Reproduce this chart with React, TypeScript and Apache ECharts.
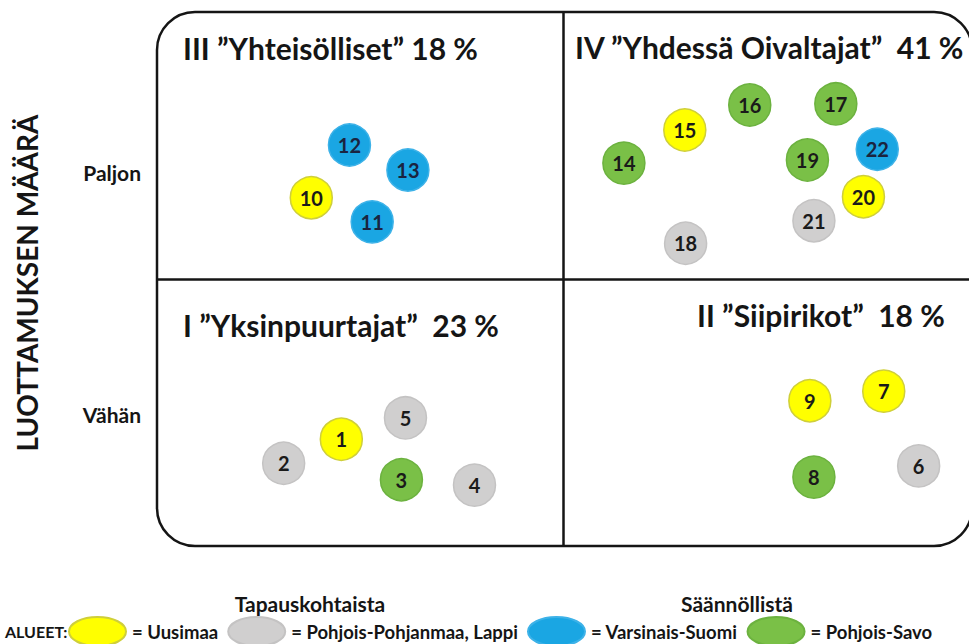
import React, { useEffect, useRef } from "react";
import * as echarts from "echarts";

// Regions (legend) and their colours
const regions = ["Uusimaa", "Pohjois-Pohjanmaa, Lappi", "Varsinais-Suomi", "Pohjois-Savo"];
const regionColors = ["#FFFF00", "#D0CFCF", "#1AA6E3", "#7AC047"];
const regionBorders = ["#CFCF3A", "#C4C3C3", "#3DB2E8", "#6CB23F"];
const regionTextColors = ["#1a1a1a", "#1a1a1a", "#1a2440", "#1a1a1a"];

// Points per region: [x (0 = tapauskohtaista .. 100 = säännöllistä), y (0 = vähän .. 100 = paljon), id]
const uusimaaPoints = [
  [22.7, 20.0, 1],
  [89.5, 29.0, 7],
  [80.4, 27.2, 9],
  [19.0, 65.2, 10],
  [65.0, 77.9, 15],
  [87.0, 65.4, 20],
];
const pohjoisPohjanmaaLappiPoints = [
  [15.6, 15.5, 2],
  [39.1, 11.4, 4],
  [30.6, 24.0, 5],
  [93.8, 15.0, 6],
  [65.1, 56.7, 18],
  [80.9, 60.9, 21],
];
const varsinaisSuomiPoints = [
  [26.5, 60.7, 11],
  [23.7, 75.1, 12],
  [30.9, 70.4, 13],
  [88.7, 74.3, 22],
];
const pohjoisSavoPoints = [
  [30.1, 12.4, 3],
  [80.9, 12.9, 8],
  [57.5, 71.7, 14],
  [73.0, 82.6, 16],
  [83.6, 82.8, 17],
  [80.1, 72.3, 19],
];
const seriesPoints = [uusimaaPoints, pohjoisPohjanmaaLappiPoints, varsinaisSuomiPoints, pohjoisSavoPoints];

// Quadrant split values
const splitX = 50;
const splitY = 50;

// Texts
const quadrantTitles = [
  "III \u201DYhteisölliset\u201D 18 %",
  "IV \u201DYhdessä Oivaltajat\u201D  41 %",
  "I \u201DYksinpuurtajat\u201D  23 %",
  "II \u201DSiipirikot\u201D  18 %",
];
const yAxisTitle = "LUOTTAMUKSEN MÄÄRÄ";
const yLevels = ["Paljon", "Vähän"];
const xLevels = ["Tapauskohtaista", "Säännöllistä"];
const legendTitle = "ALUEET:";

const FONT = "Lato";
const INK = "#151515";
const ELLIPSE = "path://M0,14.5 A28.5,14.5 0 1,1 57,14.5 A28.5,14.5 0 1,1 0,14.5 Z";

export default function App() {
  const ref = useRef<HTMLDivElement>(null);
  useEffect(() => {
    if (!ref.current) return;
    const chart = echarts.init(ref.current, null, { renderer: "svg" });
    const series: any[] = regions.map((name, i) => ({
      name,
      type: "scatter",
      data: seriesPoints[i],
      symbol: "circle",
      symbolSize: 42,
      itemStyle: { color: regionColors[i], borderColor: regionBorders[i], borderWidth: 1.5, opacity: 1 },
      label: {
        show: true,
        position: "inside",
        formatter: (p: any) => String(p.value[2]),
        fontFamily: FONT,
        fontWeight: "bold",
        fontSize: 20,
        color: regionTextColors[i],
      },
      emphasis: { disabled: true },
      z: 5,
    }));
    series.push({
      type: "scatter",
      data: [],
      silent: true,
      markLine: {
        silent: true,
        symbol: "none",
        label: { show: false },
        lineStyle: { color: INK, width: 2.5, type: "solid" },
        data: [{ xAxis: splitX }, { yAxis: splitY }],
      },
      z: 2,
    });

    const titleStyle = { fontFamily: FONT, fontWeight: "bold", fontSize: 30, fill: INK };
    const labelStyle = { fontFamily: FONT, fontWeight: "bold", fontSize: 21, fill: INK };

    chart.setOption({
      animation: false,
      backgroundColor: "#ffffff",
      grid: { left: 157, top: 12, width: 816, height: 534 },
      xAxis: { type: "value", min: 0, max: 100, show: false, splitLine: { show: false } },
      yAxis: { type: "value", min: 0, max: 100, show: false, splitLine: { show: false } },
      legend: {
        data: regions,
        selectedMode: false,
        left: 68,
        top: 616,
        width: 900,
        padding: 0,
        itemWidth: 57,
        itemHeight: 29,
        itemGap: 9,
        icon: ELLIPSE,
        formatter: (n: string) => "= " + n,
        textStyle: { fontFamily: FONT, fontWeight: "bold", fontSize: 18.5, color: INK, padding: [0, 0, 0, 1] },
      },
      series,
      graphic: [
        {
          type: "rect",
          shape: { x: 157, y: 12, width: 815, height: 534, r: 38 },
          style: { fill: "none", stroke: INK, lineWidth: 2.5 },
          silent: true,
          z: 1,
        },
        { type: "text", x: 183, y: 48, style: { ...titleStyle, text: quadrantTitles[0], textVerticalAlign: "middle" } },
        { type: "text", x: 575, y: 47, style: { ...titleStyle, text: quadrantTitles[1], textVerticalAlign: "middle" } },
        { type: "text", x: 183, y: 325, style: { ...titleStyle, text: quadrantTitles[2], textVerticalAlign: "middle" } },
        { type: "text", x: 697, y: 315, style: { ...titleStyle, text: quadrantTitles[3], textVerticalAlign: "middle" } },
        {
          type: "text",
          x: 27,
          y: 283,
          rotation: Math.PI / 2,
          style: { ...titleStyle, fontSize: 28, text: yAxisTitle, textAlign: "center", textVerticalAlign: "middle" },
        },
        { type: "text", x: 141, y: 172, style: { ...labelStyle, text: yLevels[0], textAlign: "right", textVerticalAlign: "middle" } },
        { type: "text", x: 141, y: 414, style: { ...labelStyle, text: yLevels[1], textAlign: "right", textVerticalAlign: "middle" } },
        { type: "text", x: 310, y: 603, style: { ...labelStyle, text: xLevels[0], textAlign: "center", textVerticalAlign: "middle" } },
        { type: "text", x: 737, y: 603, style: { ...labelStyle, text: xLevels[1], textAlign: "center", textVerticalAlign: "middle" } },
        { type: "text", x: 5, y: 631, style: { ...labelStyle, fontSize: 16, text: legendTitle, textVerticalAlign: "middle" } },
      ],
    });
    return () => chart.dispose();
  }, []);
  return (
    <div
      ref={ref}
      style={{ position: "absolute", left: 0, top: 0, width: 969, height: 644, background: "#fff" }}
    />
  );
}
